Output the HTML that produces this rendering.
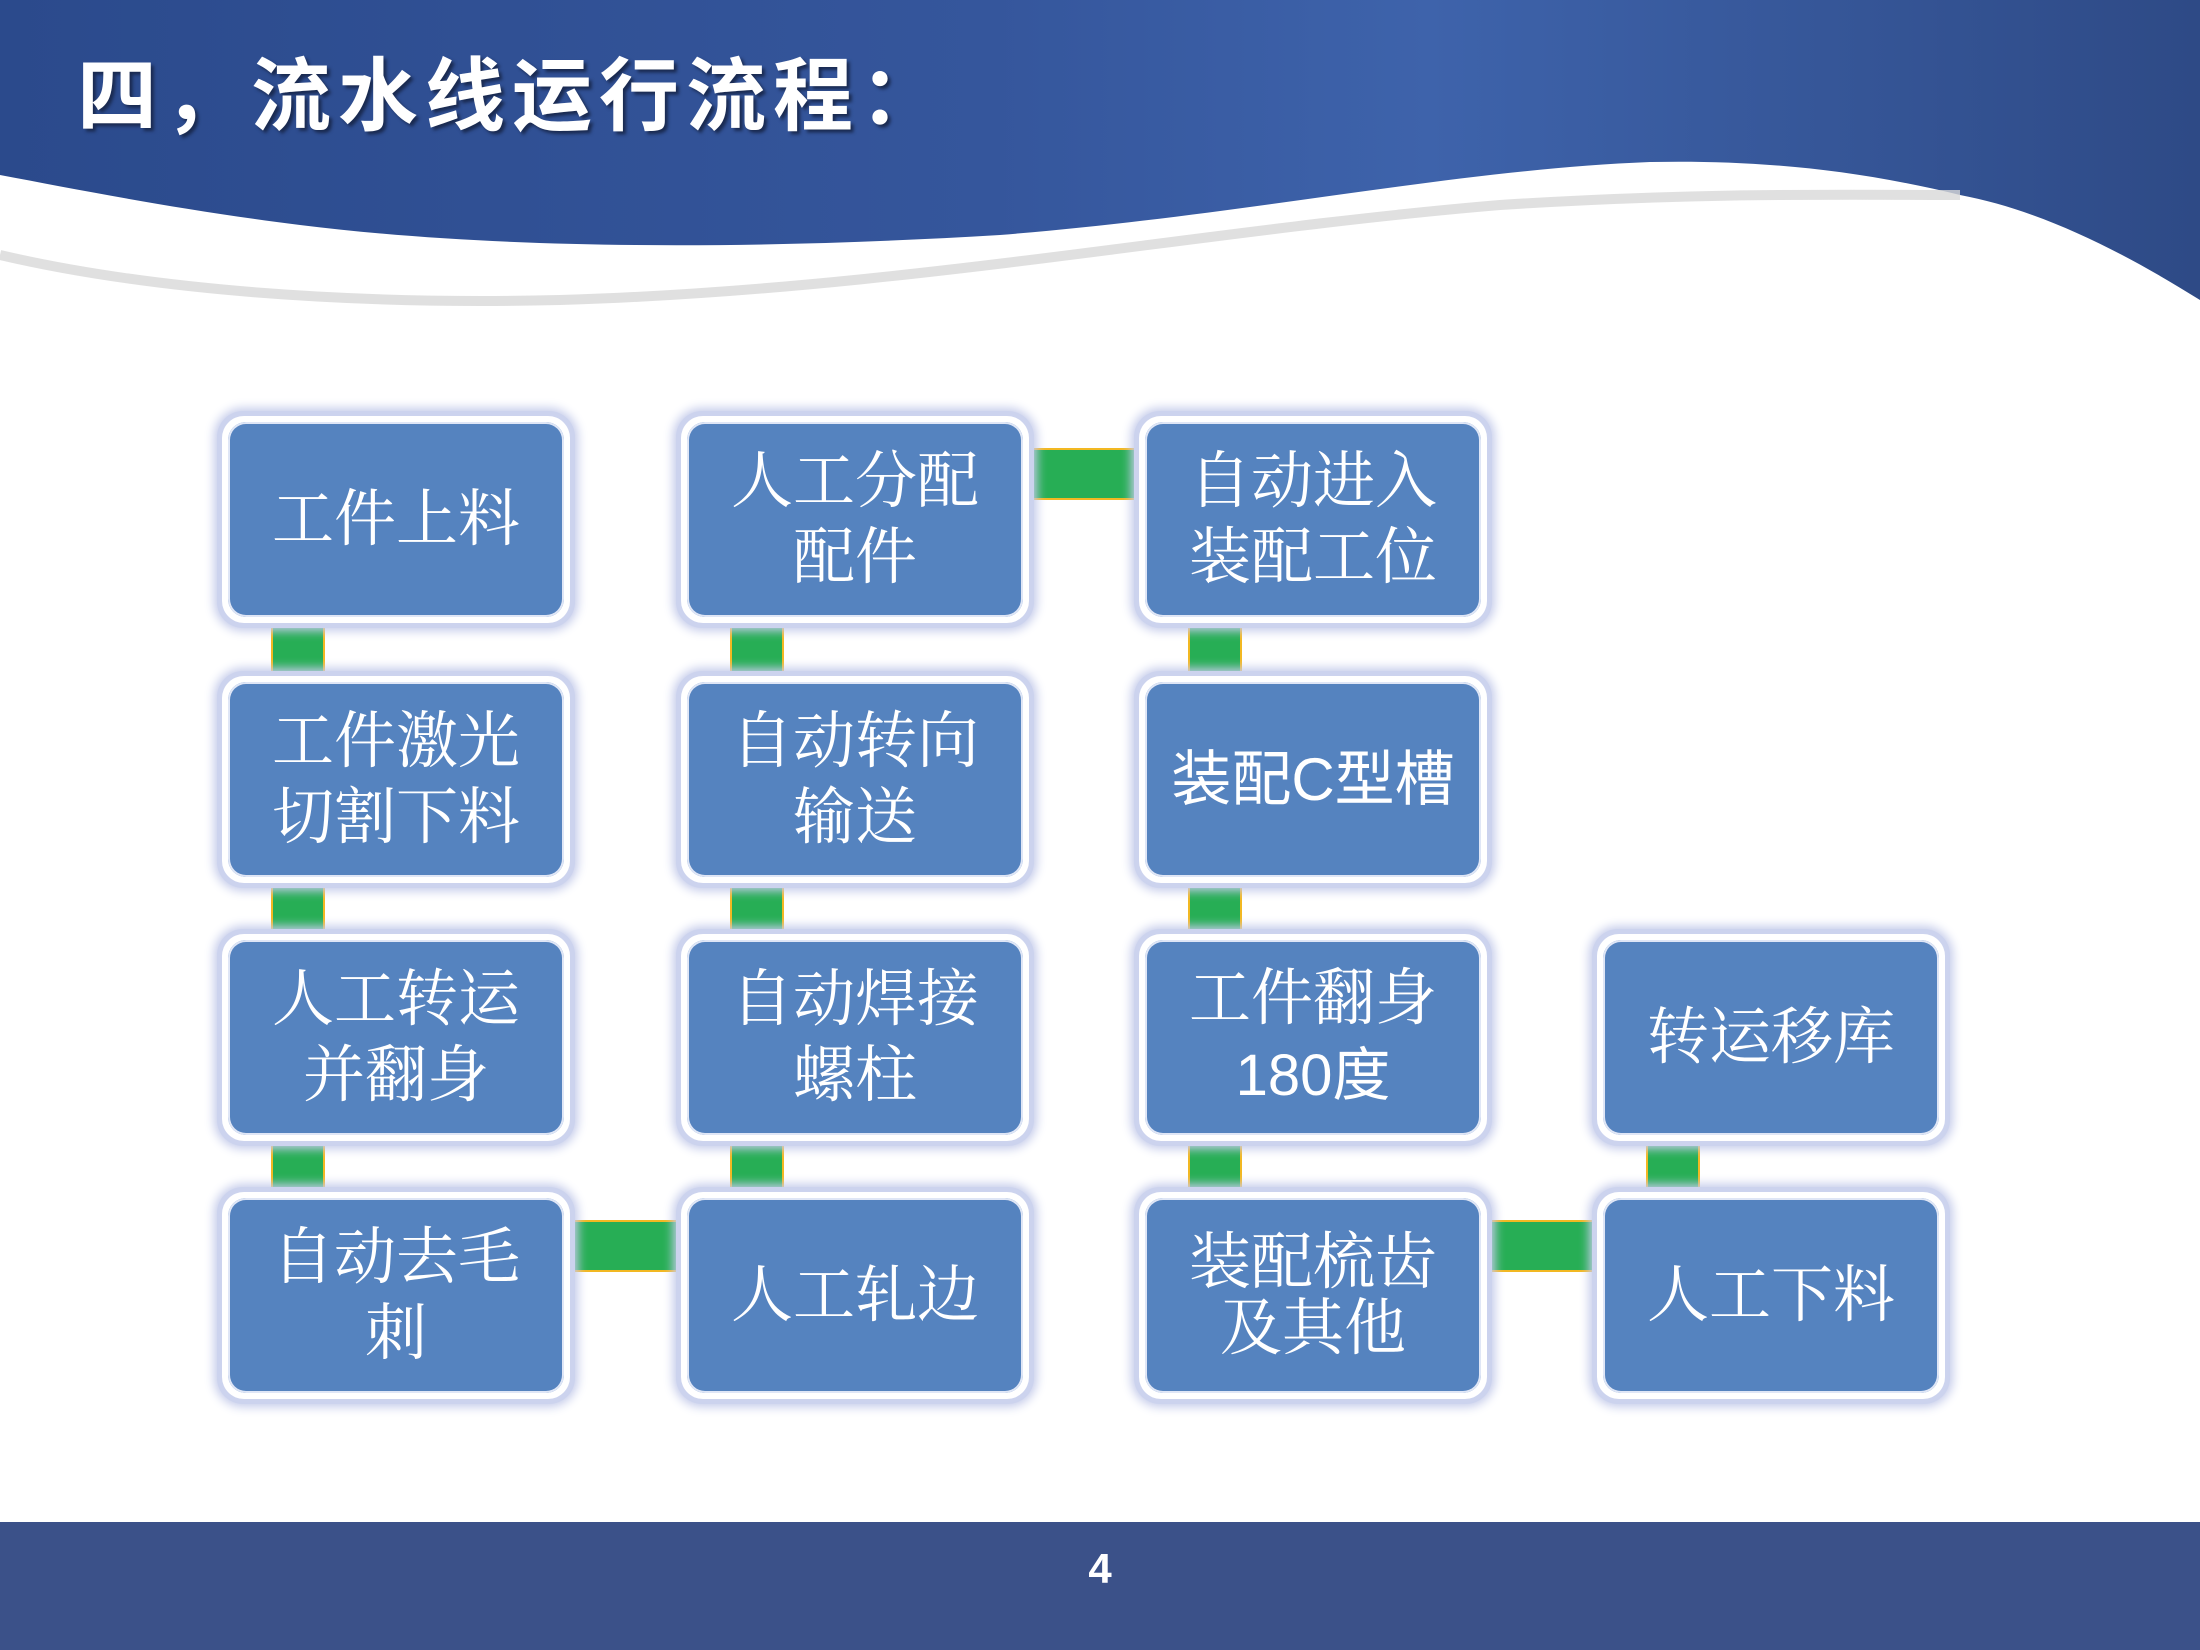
<!DOCTYPE html>
<html><head><meta charset="utf-8"><style>
html,body{margin:0;padding:0}
body{width:2200px;height:1650px;position:relative;overflow:hidden;background:#fff;font-family:"Liberation Serif","Noto Serif CJK SC","Noto Serif CJK JP",serif}
.c{position:absolute;background:#27ae55;box-shadow:0 0 0 2px #f2b822}
.b{position:absolute;width:358px;height:217px;border-radius:26px;background:#ccd3ee;box-shadow:0 0 10px 3px #c4cbea}
.b .i{position:absolute;left:5px;top:5px;right:5px;bottom:5px;border-radius:22px;background:#fff}
.b .j{position:absolute;left:11px;top:11px;right:11px;bottom:11px;border-radius:18px;background:#5583bf;box-shadow:0 0 0 2px #dfe6f6 inset;display:flex;align-items:center;justify-content:center;text-align:center;color:#fff;font-size:62px;line-height:76px}
.s{font-family:"Liberation Sans","Noto Sans CJK SC",sans-serif}
</style></head><body>
<svg width="2200" height="1650" style="position:absolute;left:0;top:0">
<defs><linearGradient id="g" x1="0" y1="0" x2="1" y2="0">
<stop offset="0" stop-color="#2b4a8c"/><stop offset="0.45" stop-color="#35569c"/><stop offset="0.65" stop-color="#3e63ab"/><stop offset="1" stop-color="#2e4a86"/></linearGradient></defs>
<path d="M0 0 H2200 V300 C2120 250 2040 210 1960 195 C1850 168 1750 160 1650 162 C1450 170 1250 215 1000 235 C750 250 500 250 300 225 C180 210 80 190 0 175 Z" fill="url(#g)"/>
<path d="M0 255 C150 290 350 305 560 300 C900 290 1200 230 1500 205 C1700 192 1850 195 1960 195" fill="none" stroke="#d8d8d8" stroke-width="10" opacity="0.8"/>
<rect x="0" y="1522" width="2200" height="128" fill="#3b5189"/>
</svg>
<div style="position:absolute;left:77px;top:32px;font-family:'Liberation Sans','Noto Sans CJK SC',sans-serif;font-weight:bold;font-size:80px;color:#fff;text-shadow:3px 3px 3px #1a2a50;letter-spacing:7px">四，流水线运行流程：</div>
<div style="position:absolute;left:0;width:2200px;top:1545px;text-align:center;font-family:'Liberation Sans',sans-serif;font-weight:bold;font-size:42px;color:#fff">4</div>

<div class="c" style="left:273px;top:620px;width:50px;height:58px"></div>
<div class="c" style="left:273px;top:880px;width:50px;height:56px"></div>
<div class="c" style="left:273px;top:1138px;width:50px;height:56px"></div>
<div class="c" style="left:732px;top:620px;width:50px;height:58px"></div>
<div class="c" style="left:732px;top:880px;width:50px;height:56px"></div>
<div class="c" style="left:732px;top:1138px;width:50px;height:56px"></div>
<div class="c" style="left:1190px;top:620px;width:50px;height:58px"></div>
<div class="c" style="left:1190px;top:880px;width:50px;height:56px"></div>
<div class="c" style="left:1190px;top:1138px;width:50px;height:56px"></div>
<div class="c" style="left:1648px;top:1138px;width:50px;height:56px"></div>
<div class="c" style="left:568px;top:1222px;width:115px;height:48px"></div>
<div class="c" style="left:1027px;top:450px;width:114px;height:48px"></div>
<div class="c" style="left:1484px;top:1222px;width:115px;height:48px"></div>

<div class="b" style="left:217px;top:411px"><div class="i"></div><div class="j">工件上料</div></div>
<div class="b" style="left:217px;top:671px"><div class="i"></div><div class="j">工件激光<br>切割下料</div></div>
<div class="b" style="left:217px;top:929px"><div class="i"></div><div class="j">人工转运<br>并翻身</div></div>
<div class="b" style="left:217px;top:1187px"><div class="i"></div><div class="j">自动去毛<br>刺</div></div>

<div class="b" style="left:676px;top:411px"><div class="i"></div><div class="j">人工分配<br>配件</div></div>
<div class="b" style="left:676px;top:671px"><div class="i"></div><div class="j">自动转向<br>输送</div></div>
<div class="b" style="left:676px;top:929px"><div class="i"></div><div class="j">自动焊接<br>螺柱</div></div>
<div class="b" style="left:676px;top:1187px"><div class="i"></div><div class="j">人工轧边</div></div>

<div class="b" style="left:1134px;top:411px"><div class="i"></div><div class="j">自动进入<br>装配工位</div></div>
<div class="b" style="left:1134px;top:671px"><div class="i"></div><div class="j s" style="font-size:60px">装配C型槽</div></div>
<div class="b" style="left:1134px;top:929px"><div class="i"></div><div class="j"><div>工件翻身<br><span class="s" style="font-size:58px">180度</span></div></div></div>
<div class="b" style="left:1134px;top:1187px"><div class="i"></div><div class="j" style="line-height:66px">装配梳齿<br>及其他</div></div>

<div class="b" style="left:1592px;top:929px"><div class="i"></div><div class="j">转运移库</div></div>
<div class="b" style="left:1592px;top:1187px"><div class="i"></div><div class="j">人工下料</div></div>
</body></html>
